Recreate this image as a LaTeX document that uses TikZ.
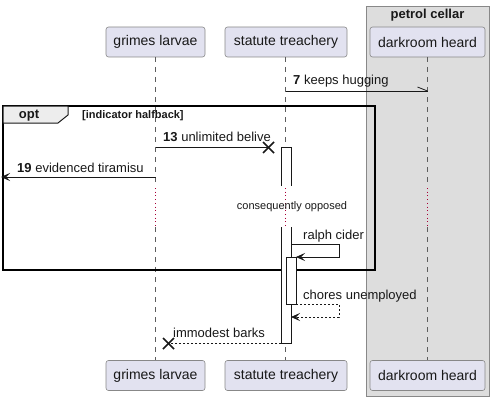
\documentclass[tikz,border=0pt]{standalone}
\usepackage{fontspec}
\setmainfont{Liberation Sans}
\usetikzlibrary{arrows.meta,calc}
\definecolor{partfill}{HTML}{E2E2F0}
\definecolor{partline}{HTML}{888888}
\definecolor{boxfill}{HTML}{DDDDDD}
\definecolor{ink}{HTML}{181818}
\definecolor{delayred}{HTML}{A80036}
\tikzset{
  part/.style={draw=partline, fill=partfill, rounded corners=2.5pt, line width=0.6pt,
    minimum height=30pt, inner xsep=6pt, font=\fontsize{14}{16}\selectfont, text=ink},
  life/.style={draw=ink!70, line width=0.5pt, dash pattern=on 5pt off 5pt},
  delayline/.style={draw=delayred, line width=0.7pt, dash pattern=on 0.7pt off 3pt},
  msg/.style={draw=ink, line width=0.8pt},
  ret/.style={draw=ink, line width=0.8pt, dash pattern=on 2pt off 2pt},
  tip/.style={-{Stealth[length=9pt,width=8pt,inset=4pt]}},
  act/.style={draw=ink, fill=white, line width=0.8pt},
  actfill/.style={fill=white},
  lbl/.style={anchor=west, inner sep=0pt, font=\fontsize{13}{15}\selectfont, text=ink},
  xmark/.style={draw=ink, line width=1.6pt},
}
\begin{document}
\begin{tikzpicture}[x=1pt,y=-1pt]
\useasboundingbox (0,0) rectangle (494,401);
% group box
\draw[draw=partline, fill=boxfill, line width=0.8pt] (366,6) rectangle (489,396);
\node[font=\bfseries\fontsize{13}{15}\selectfont, text=ink] (boxtitle) at (427.5,15) {petrol cellar};
% participants
\node[part, minimum width=99pt] (gT) at (155.5,42) {grimes larvae};
\node[part, minimum width=122pt] (sT) at (286,42) {statute treachery};
\node[part, minimum width=115pt] (dT) at (427.5,42) {darkroom heard};
\node[part, minimum width=99pt] (gB) at (155.5,375.5) {grimes larvae};
\node[part, minimum width=122pt] (sB) at (286,375.5) {statute treachery};
\node[part, minimum width=115pt] (dB) at (427.5,375.5) {darkroom heard};
% lifelines
\foreach \p/\x in {g/155.5, s/285.5, d/427.5}{
  \draw[life] (\x,57) -- (\x,186);
  \draw[delayline] (\x,188) -- (\x,227);
  \draw[life] (\x,227) -- (\x,360);
}
% opt frame
\draw[draw=black, line width=1.5pt] (3,106) rectangle (375,270);
\draw[draw=ink, fill=black!7, line width=1pt] (3,106) -- (68,106) -- (68,115) -- (58,123) -- (3,123) -- cycle;
\node[font=\bfseries\fontsize{13}{15}\selectfont, text=ink] (optlbl) at (29,116) {opt};
\node[anchor=west, inner sep=0pt, font=\bfseries\fontsize{11}{13}\selectfont, text=ink] (guard) at (82,116) {[indicator halfback]};
% message 7
\coordinate (m7a) at (285.5,91);
\coordinate (m7b) at (427.5,91);
\draw[msg] (m7a) -- (m7b);
\draw[msg] (m7b) -- ++(-10,-4);
\node[lbl] (l7) at (293,81) {\textbf{7} keeps hugging};
% activations (open across the delay)
\fill[actfill] (281,147) rectangle (291,186);
\draw[act] (281,186) -- (281,147) -- (291,147) -- (291,186);
\fill[actfill] (281,227) rectangle (291,343);
\draw[act] (281,227) -- (281,343) -- (291,343) -- (291,227);
\draw[act] (286.5,257) rectangle (296,304);
% message 13
\coordinate (m13a) at (155.5,147.5);
\coordinate (m13b) at (268.5,147.5);
\draw[msg] (m13a) -- (m13b);
\draw[xmark] ($(m13b)+(-5.5,-5.5)$) -- ($(m13b)+(5.5,5.5)$);
\draw[xmark] ($(m13b)+(-5.5,5.5)$) -- ($(m13b)+(5.5,-5.5)$);
\node[lbl] (l13) at (163,137) {\textbf{13} unlimited belive};
% message 19
\coordinate (m19a) at (155.5,177);
\coordinate (m19b) at (1,177);
\draw[msg, tip] (m19a) -- (m19b);
\node[lbl] (l19) at (17,168) {\textbf{19} evidenced tiramisu};
% delay
\node[font=\fontsize{11}{13}\selectfont, text=ink, inner sep=0pt] (delay) at (292,207) {consequently opposed};
% ralph cider
\coordinate (rc1) at (291,244);
\coordinate (rc2) at (296,257);
\draw[msg, tip] (rc1) -- (339,244) -- (339,257) -- (rc2);
\node[lbl] (lrc) at (303,236) {ralph cider};
% chores unemployed
\coordinate (cu1) at (296,304);
\coordinate (cu2) at (291,317);
\draw[ret, tip] (cu1) -- (339,304) -- (339,317) -- (cu2);
\node[lbl] (lcu) at (303,296) {chores unemployed};
% immodest barks
\coordinate (ib1) at (281,343.5);
\coordinate (ib2) at (168.5,343.5);
\draw[ret] (ib1) -- (ib2);
\draw[xmark] ($(ib2)+(-5.5,-5.5)$) -- ($(ib2)+(5.5,5.5)$);
\draw[xmark] ($(ib2)+(-5.5,5.5)$) -- ($(ib2)+(5.5,-5.5)$);
\node[lbl] (lib) at (173,333) {immodest barks};
\end{tikzpicture}
\end{document}
